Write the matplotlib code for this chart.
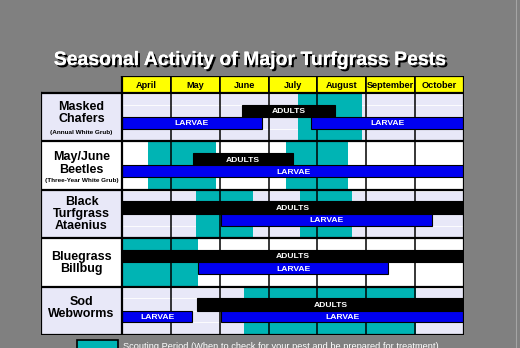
import matplotlib
matplotlib.use('Agg')
import matplotlib.pyplot as plt
import matplotlib.patheffects as pe
from matplotlib.patches import Rectangle
from matplotlib.lines import Line2D

plt.rcParams['font.family'] = ['Liberation Sans', 'DejaVu Sans']

# months on the x axis: April = 0..1, ..., October = 6..7
months = ['April', 'May', 'June', 'July', 'August', 'September', 'October']
pests = ['Masked\nChafers', 'May/June\nBeetles', 'Black\nTurfgrass\nAtaenius',
         'Bluegrass\nBillbug', 'Sod\nWebworms']
subtitles = ['(Annual White Grub)', '(Three-Year White Grub)', '', '', '']

# activity spans in month units
scouting = [[(3.6, 4.92)],
            [(0.53, 1.92), (3.35, 4.62)],
            [(1.51, 2.68), (3.64, 4.71)],
            [(0.0, 1.56)],
            [(2.5, 6.01)]]
adults = [[(2.45, 4.36)],
          [(1.45, 3.5)],
          [(0.0, 7.0)],
          [(0.0, 7.0)],
          [(1.53, 7.0)]]
larvae = [[(0.0, 2.86), (3.87, 7.0)],
          [(0.0, 7.0)],
          [(2.03, 6.34)],
          [(1.56, 5.44)],
          [(0.0, 1.43), (2.03, 7.0)]]

GREY = '#808080'
LAVENDER = '#e8e8f8'
TEAL = '#00b4b4'
BLUE = '#0000f0'
YELLOW = '#ffff00'

W, H = 520, 348
fig = plt.figure(figsize=(W / 100, H / 100), dpi=100, facecolor=GREY)

LABEL_W = 1.66
HEAD_H = 0.35
ax = fig.add_axes([41 / W, 13 / H, 423 / W, 259 / H])
ax.set_xlim(-LABEL_W, 7)
ax.set_ylim(5, -HEAD_H)
ax.axis('off')

n_months = len(months)
n_rows = len(pests)

# header cells
for i, m in enumerate(months):
    ax.add_patch(Rectangle((i, -HEAD_H), 1, HEAD_H, facecolor=YELLOW,
                           edgecolor='black', lw=1.2, zorder=6))
    ax.text(i + 0.5, -HEAD_H / 2, m, ha='center', va='center_baseline',
            fontsize=6.6, fontweight='bold', color='black', zorder=7)

label_centers = [0.39, 0.425, 0.47, 0.485, 0.415]
ADULT_Y = (0.24, 0.255)
LARVA_Y = (0.495, 0.245)

for r in range(n_rows):
    bg = LAVENDER if r % 2 == 0 else 'white'
    ax.add_patch(Rectangle((-LABEL_W, r), LABEL_W + n_months, 1,
                           facecolor=bg, edgecolor='none', zorder=0))
    # thin cell spacing lines between sub-rows
    for yy in (0.03, ADULT_Y[0], LARVA_Y[0], LARVA_Y[0] + LARVA_Y[1]):
        ax.plot([0, n_months], [r + yy, r + yy], color='white', lw=0.6, zorder=1)

    for a, b in scouting[r]:
        ax.add_patch(Rectangle((a, r), b - a, 1, facecolor=TEAL,
                               edgecolor='none', zorder=2))

    for a, b in adults[r]:
        ax.add_patch(Rectangle((a, r + ADULT_Y[0]), b - a, ADULT_Y[1],
                               facecolor='black', edgecolor='black', lw=0.8, zorder=4))
        ax.text((a + b) / 2, r + ADULT_Y[0] + ADULT_Y[1] / 2, 'ADULTS',
                ha='center', va='center_baseline', color='white',
                fontsize=6.1, fontweight='bold', zorder=5)
    for a, b in larvae[r]:
        ax.add_patch(Rectangle((a, r + LARVA_Y[0]), b - a, LARVA_Y[1],
                               facecolor=BLUE, edgecolor='black', lw=0.8, zorder=4))
        ax.text((a + b) / 2, r + LARVA_Y[0] + LARVA_Y[1] / 2, 'LARVAE',
                ha='center', va='center_baseline', color='white',
                fontsize=6.1, fontweight='bold', zorder=5)

    # pest name in the left column
    lines = pests[r].split('\n')
    step = 0.254
    for k, line in enumerate(lines):
        y = r + label_centers[r] + (k - (len(lines) - 1) / 2) * step
        ax.text(-LABEL_W / 2, y, line, ha='center', va='center_baseline',
                fontsize=9, fontweight='bold', color='black', zorder=7)
    if subtitles[r]:
        ax.text(-LABEL_W / 2, r + 0.8, subtitles[r], ha='center',
                va='center_baseline', fontsize=4.6, fontweight='bold',
                color='black', zorder=7)

# grid lines
for i in range(1, n_months):
    ax.plot([i, i], [0, n_rows], color='black', lw=1.1, zorder=3)
for r in range(n_rows + 1):
    ax.plot([-LABEL_W, n_months], [r, r], color='black', lw=1.6, zorder=6)
ax.plot([0, 0], [-HEAD_H, n_rows], color='black', lw=1.6, zorder=6)
ax.plot([-LABEL_W, -LABEL_W], [0, n_rows], color='black', lw=1.6, zorder=6)
ax.plot([n_months, n_months], [-HEAD_H, n_rows], color='black', lw=1.6, zorder=6)
ax.plot([0, n_months], [-HEAD_H, -HEAD_H], color='black', lw=1.6, zorder=6)

# title with drop shadow
title = 'Seasonal Activity of Major Turfgrass Pests'
fig.text(250.5 / W, (H - 65) / H, title, ha='center', va='baseline',
         fontsize=14, fontweight='bold', color='white',
         path_effects=[pe.withSimplePatchShadow(offset=(1.6, -1.6),
                                                shadow_rgbFace='black', alpha=1.0),
                       pe.Normal()])

# legend
fig.add_artist(Rectangle((77 / W, (H - 352) / H), 41 / W, 12 / H,
                         transform=fig.transFigure, facecolor=TEAL,
                         edgecolor='black', lw=1.2, clip_on=False))
fig.text(123 / W, (H - 349) / H,
         'Scouting Period (When to check for your pest and be prepared for treatment)',
         ha='left', va='baseline', fontsize=6.7, color='white')

fig.add_artist(Line2D([515.5 / W] * 2, [0, 1], transform=fig.transFigure,
                      color='#a4a4a4', lw=0.8))

fig.savefig('out.png', dpi=100, facecolor=GREY)
